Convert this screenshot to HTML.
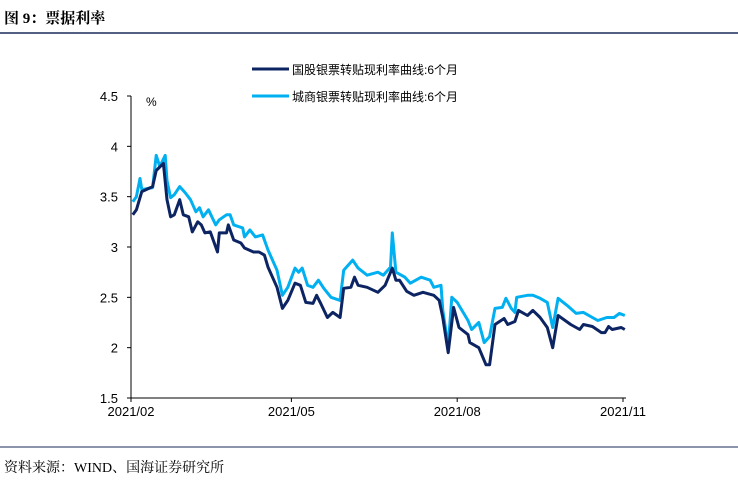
<!DOCTYPE html>
<html><head><meta charset="utf-8"><style>
body{margin:0;background:#fff;width:738px;height:497px;overflow:hidden;font-family:"Liberation Sans","Noto Sans CJK SC",sans-serif}
svg{position:absolute;left:0;top:0}
</style></head><body>
<svg width="738" height="497">
<text x="4" y="23" font-size="15" font-weight="bold" font-family="'Liberation Serif','Noto Serif CJK SC',serif">图 9：票据利率</text>
<line x1="0" y1="33" x2="738" y2="33" stroke="#1a2a5a" stroke-width="1.5"/>
<line x1="0" y1="447" x2="738" y2="447" stroke="#1a2a5a" stroke-width="1"/>
<text x="4" y="472" font-size="14" font-family="'Liberation Serif','Noto Serif CJK SC',serif">资料来源：WIND、国海证券研究所</text>
<g id="legend">
<line x1="252" y1="69" x2="289" y2="69" stroke="#0d2463" stroke-width="3"/>
<text x="292" y="74" font-size="12">国股银票转贴现利率曲线:6个月</text>
<line x1="252" y1="96" x2="289" y2="96" stroke="#00b0f0" stroke-width="3"/>
<text x="292" y="101" font-size="12">城商银票转贴现利率曲线:6个月</text>
</g>
<text x="146" y="106" font-size="12">%</text>
<g id="axes"></g>
<g id="series"></g>
</svg>
<script>
const yTicks=[1.5,2,2.5,3,3.5,4,4.5];
const yTickLabels=["1.5","2","2.5","3","3.5","4","4.5"];
const xTicks=[0,89,181,273];
const xTickLabels=["2021/02","2021/05","2021/08","2021/11"];
const darkDays=[1,3,6,12,14,18,20,22,24,27,29,32,34,37,39,41,44,48,49,53,54,57,61,63,68,71,74,76,81,84,87,91,94,97,101,103,105,109,112,116,118,122,124,126,131,137,141,145,147,149,153,157,162,168,171,173,176,179,182,187,188,193,197,199,202,207,209,213,215,220,223,227,231,234,237,244,249,251,256,261,263,265,267,272,274];
const darkVals=[3.32,3.37,3.55,3.60,3.76,3.83,3.47,3.30,3.32,3.47,3.32,3.30,3.15,3.25,3.22,3.14,3.15,2.95,3.14,3.14,3.22,3.07,3.04,2.99,2.95,2.95,2.92,2.80,2.60,2.39,2.47,2.64,2.62,2.45,2.44,2.52,2.45,2.30,2.35,2.30,2.59,2.60,2.70,2.62,2.60,2.55,2.62,2.79,2.67,2.67,2.56,2.52,2.55,2.52,2.47,2.30,1.95,2.40,2.20,2.13,2.05,2.00,1.83,1.83,2.23,2.29,2.23,2.26,2.37,2.32,2.37,2.30,2.20,2.00,2.32,2.23,2.18,2.23,2.21,2.15,2.15,2.21,2.18,2.20,2.18];
const lightDays=[1,3,5,6,12,14,16,19,20,22,24,27,30,33,36,38,40,43,47,49,53,55,57,62,63,66,69,73,76,81,84,87,91,93,95,98,101,104,107,111,116,118,123,126,131,137,140,144,145,147,152,155,161,166,168,172,173,176,178,181,187,189,193,196,199,202,206,208,211,213,214,220,223,227,231,234,237,242,247,251,256,259,264,268,271,274];
const lightVals=[3.45,3.50,3.68,3.57,3.59,3.91,3.80,3.91,3.66,3.49,3.52,3.60,3.54,3.47,3.35,3.39,3.30,3.37,3.22,3.27,3.32,3.32,3.22,3.19,3.10,3.17,3.10,3.12,2.97,2.77,2.52,2.60,2.79,2.75,2.79,2.62,2.60,2.67,2.59,2.50,2.47,2.77,2.87,2.79,2.72,2.75,2.72,2.80,3.14,2.75,2.70,2.64,2.70,2.67,2.60,2.62,2.37,2.01,2.50,2.45,2.27,2.18,2.25,2.05,2.11,2.39,2.40,2.49,2.39,2.35,2.50,2.52,2.52,2.49,2.45,2.20,2.49,2.42,2.34,2.35,2.30,2.27,2.30,2.30,2.34,2.32];

const NS="http://www.w3.org/2000/svg";
const X0=131,X1=623,D1=273,Y0=398,Y1=96;
function xs(d){return X0+(d/D1)*(X1-X0);}
function ys(v){return Y0-(v-1.5)/3*(Y0-Y1);}
function mk(tag,attrs,parent){const e=document.createElementNS(NS,tag);for(const k in attrs)e.setAttribute(k,attrs[k]);parent.appendChild(e);return e;}
const axes=document.getElementById('axes');
let a=mk('line',{x1:X0,y1:Y1,x2:X0,y2:Y0,stroke:'#000','stroke-width':1},axes);


a=mk('line',{x1:X0,y1:Y0,x2:626,y2:Y0,stroke:'#000','stroke-width':1},axes);


yTicks.forEach((v,i)=>{
  const t=mk('line',{x1:X0-4,y1:ys(v),x2:X0,y2:ys(v),stroke:'#000'},axes);
  
  
  const l=mk('text',{x:118,y:ys(v)+5,'font-size':13,'text-anchor':'end'},axes);
  l.textContent=yTickLabels[i];
  
  
});
xTicks.forEach((d,i)=>{
  const t=mk('line',{x1:xs(d),y1:Y0,x2:xs(d),y2:Y0+4,stroke:'#000'},axes);
  
  
  const l=mk('text',{x:xs(d),y:416,'font-size':13,'text-anchor':'middle'},axes);
  l.textContent=xTickLabels[i];
  
  
});
const ser=document.getElementById('series');
function line(days,vals,color,name){
  const p=days.map((d,i)=>(i?'L':'M')+xs(d).toFixed(1)+','+ys(vals[i]).toFixed(1)).join('');
  const e=mk('path',{d:p,fill:'none',stroke:color,'stroke-width':3,'stroke-linejoin':'round'},ser);
  
  
}
line(lightDays,lightVals,'#00b0f0','line-chengshang');
line(darkDays,darkVals,'#0d2463','line-guogu');
</script>
</body></html>
